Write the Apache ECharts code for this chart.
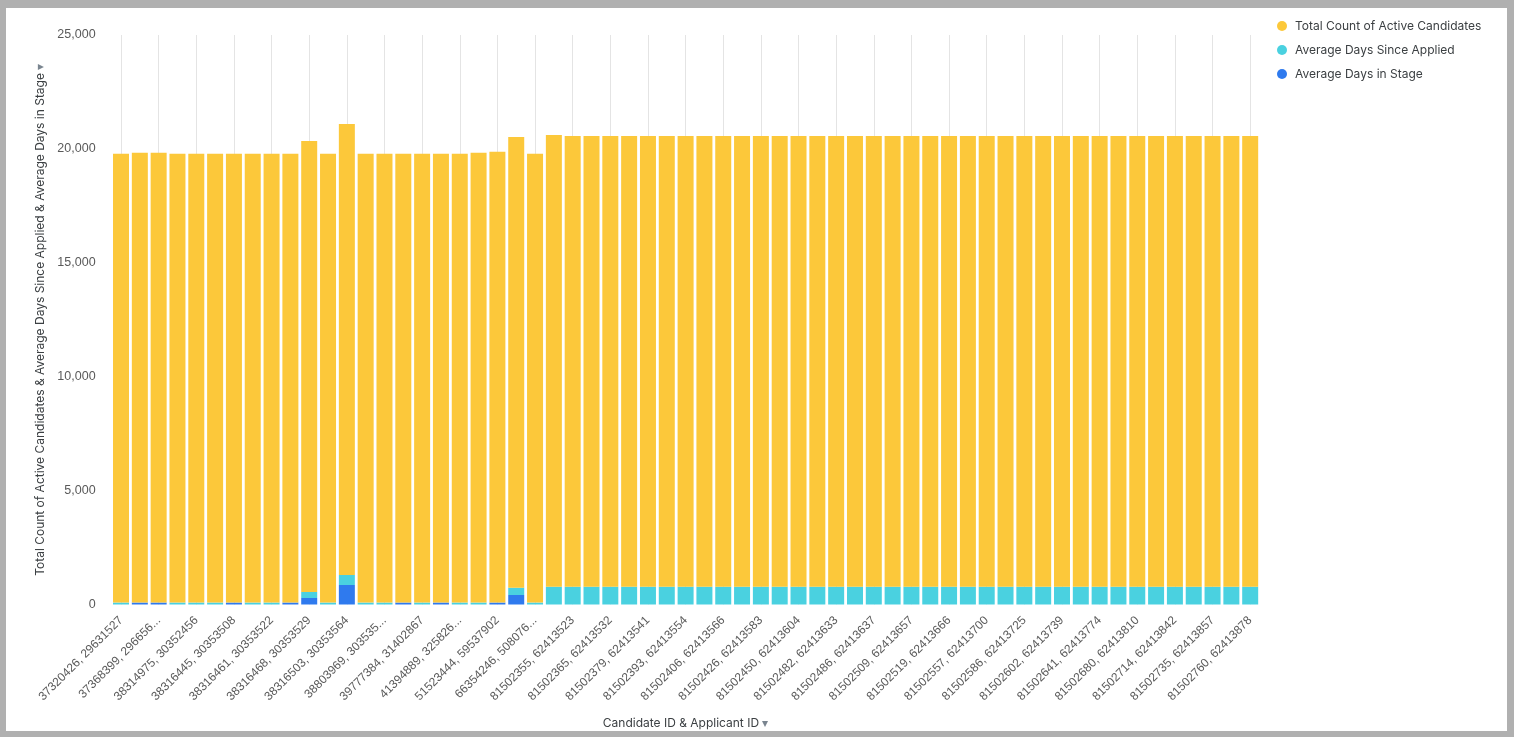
<!DOCTYPE html>
<html>
<head>
<meta charset="utf-8">
<title>Active Candidates</title>
<script src="https://cdn.jsdelivr.net/npm/echarts/dist/echarts.min.js"></script>
<style>
    html, body {margin: 0; padding: 0; background: #b0b0b0; width: 1514px; height: 737px; overflow: hidden;}
    #main {position: absolute; left: 6px; top: 8px; width: 1501px; height: 723px; background: #ffffff;}
</style>
</head>
<body>
<div id="main"></div>
<script>
// categories (only every other one gets a label on the axis)
let categories = [
    "37320426, 29631527", "37320437, 29631541", "37368399, 296656...", "37369812, 29667310",
    "38314975, 30352456", "38316441, 30353504", "38316445, 30353508", "38316452, 30353514",
    "38316461, 30353522", "38316465, 30353526", "38316468, 30353529", "38316497, 30353558",
    "38316503, 30353564", "38316510, 30353571", "38803969, 303535...", "39321055, 30916284",
    "39777384, 31402867", "40216733, 31855029", "41394889, 325826...", "45960112, 42381775",
    "51523444, 59537902", "61237048, 45516613", "66354246, 508076...", "81502349, 62413518",
    "81502355, 62413523", "81502360, 62413528", "81502365, 62413532", "81502371, 62413536",
    "81502379, 62413541", "81502388, 62413549", "81502393, 62413554", "81502399, 62413560",
    "81502406, 62413566", "81502417, 62413575", "81502426, 62413583", "81502437, 62413593",
    "81502450, 62413604", "81502468, 62413620", "81502482, 62413633", "81502484, 62413635",
    "81502486, 62413637", "81502497, 62413646", "81502509, 62413657", "81502514, 62413662",
    "81502519, 62413666", "81502538, 62413683", "81502557, 62413700", "81502571, 62413712",
    "81502586, 62413725", "81502594, 62413732", "81502602, 62413739", "81502620, 62413756",
    "81502641, 62413774", "81502659, 62413791", "81502680, 62413810", "81502697, 62413826",
    "81502714, 62413842", "81502725, 62413849", "81502735, 62413857", "81502748, 62413868",
    "81502760, 62413878"
];

let daysInStage = [
    0, 85, 85, 0, 0, 0, 85, 0, 0, 85,
    285, 0, 856, 0, 0, 85, 0, 85, 0, 0,
    85, 417, 0, 0, 0, 0, 0, 0, 0, 0,
    0, 0, 0, 0, 0, 0, 0, 0, 0, 0,
    0, 0, 0, 0, 0, 0, 0, 0, 0, 0,
    0, 0, 0, 0, 0, 0, 0, 0, 0, 0,
    0
];

let daysSinceApplied = [
    85, 0, 0, 85, 85, 85, 0, 85, 85, 0,
    264, 85, 439, 85, 85, 0, 85, 0, 85, 85,
    0, 320, 85, 780, 780, 780, 780, 780, 780, 780,
    780, 780, 780, 780, 780, 780, 780, 780, 780, 780,
    780, 780, 780, 780, 780, 780, 780, 780, 780, 780,
    780, 780, 780, 780, 780, 780, 780, 780, 780, 780,
    780
];

let activeCandidates = [
    19705, 19750, 19750, 19705, 19705, 19705, 19705, 19705, 19705, 19705,
    19800, 19705, 19800, 19705, 19705, 19705, 19705, 19705, 19705, 19750,
    19795, 19785, 19705, 19830, 19785, 19785, 19785, 19785, 19785, 19785,
    19785, 19785, 19785, 19785, 19785, 19785, 19785, 19785, 19785, 19785,
    19785, 19785, 19785, 19785, 19785, 19785, 19785, 19785, 19785, 19785,
    19785, 19785, 19785, 19785, 19785, 19785, 19785, 19785, 19785, 19785,
    19785
];

let yTicks = [0, 5000, 10000, 15000, 20000, 25000];

const YELLOW = "#fcc83a";
const CYAN = "#4ad1e0";
const BLUE = "#2f7aee";

let chart = echarts.init(document.getElementById("main"));

let option = {
    animation: false,
    textStyle: {fontFamily: "Inter, 'Liberation Sans', Arial, sans-serif"},
    legend: {
        orient: "vertical", left: 1266, top: 7, icon: "circle",
        itemWidth: 16, itemHeight: 10, itemGap: 12,
        textStyle: {color: "#3c4043", fontSize: 12, fontFamily: "Inter, sans-serif"},
        data: ["Total Count of Active Candidates", "Average Days Since Applied", "Average Days in Stage"]
    },
    // keep the plot box where it is, labels may hang out of it
    grid: {left: 105.6, right: 247.4, top: 27, bottom: 126.5, outerBoundsMode: "none", containLabel: false},
    xAxis: {
        type: "category", data: categories,
        name: "Candidate ID & Applicant ID {a|▾}", nameLocation: "middle", nameGap: 113,
        nameTextStyle: {
            color: "#3c4043", fontSize: 12, fontFamily: "Inter, sans-serif",
            rich: {a: {color: "#7a8590", fontSize: 12}}
        },
        axisLine: {show: false}, axisTick: {show: false},
        axisLabel: {
            interval: 1, rotate: 45, margin: 14, color: "#5a5a5a", fontSize: 12,
            fontFamily: "'Liberation Sans', Arial, sans-serif"
        },
        splitLine: {show: true, interval: 1, alignWithLabel: true, lineStyle: {color: "#e4e4e4", width: 1}}
    },
    yAxis: {
        type: "value", min: yTicks[0], max: yTicks[yTicks.length - 1], interval: yTicks[1] - yTicks[0],
        name: "Total Count of Active Candidates & Average Days Since Applied & Average Days in Stage {a|▾}",
        nameLocation: "middle", nameGap: 61,
        nameTextStyle: {
            color: "#3c4043", fontSize: 12, fontFamily: "Inter, sans-serif",
            rich: {a: {color: "#7a8590", fontSize: 12}}
        },
        axisLine: {show: false}, axisTick: {show: false}, splitLine: {show: false},
        axisLabel: {
            margin: 16, color: "#5a5a5a", fontSize: 12.5, padding: [4, 0, 0, 0],
            fontFamily: "'Liberation Sans', Arial, sans-serif",
            formatter: v => v.toLocaleString("en-US")
        }
    },
    series: [
        {name: "Average Days in Stage", type: "bar", stack: "all", data: daysInStage,
            itemStyle: {color: BLUE}, barCategoryGap: "15%"},
        {name: "Average Days Since Applied", type: "bar", stack: "all", data: daysSinceApplied,
            itemStyle: {color: CYAN}},
        {name: "Total Count of Active Candidates", type: "bar", stack: "all", data: activeCandidates,
            itemStyle: {color: YELLOW}}
    ]
};

chart.setOption(option);
</script>
</body>
</html>
